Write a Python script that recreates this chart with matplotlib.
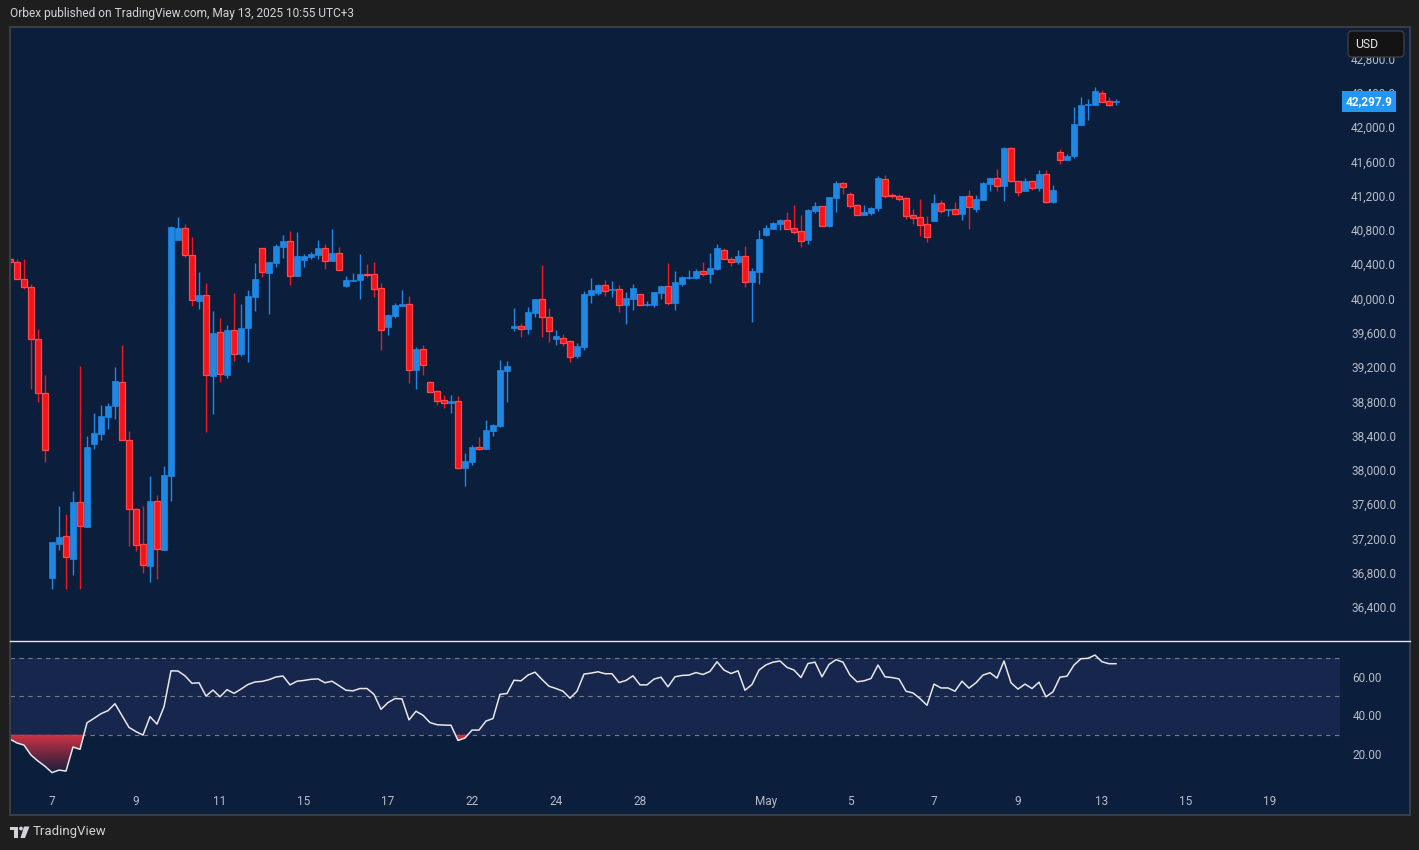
import numpy as np
import matplotlib.pyplot as plt
from matplotlib.patches import Rectangle, FancyBboxPatch, Circle, Polygon
from matplotlib.path import Path

plt.rcParams['font.family'] = ['Roboto', 'DejaVu Sans']

# 4h candles, Apr 4 -> May 13 2025 (index = candle number)
opens = [40456, 40421, 40223, 40130, 39523, 38893, 36742, 37139, 37224, 36964,
         37621, 37337, 38306, 38422, 38620, 38749, 39021, 38344, 37539, 37131,
         36882, 37633, 37069, 37932, 40686, 40818, 40503, 39974, 40036, 39099,
         39604, 39110, 39632, 39356, 39651, 40021, 40584, 40300, 40417, 40604,
         40670, 40266, 40452, 40483, 40507, 40588, 40441, 40530, 40145, 40207,
         40215, 40285, 40285, 40122, 39671, 39799, 39916, 39935, 39169, 39410,
         39025, 38920, 38815, 38784, 38803, 38025, 38095, 38267, 38247, 38457,
         38515, 39157, 39659, 39678, 39647, 39834, 39993, 39783, 39527, 39540,
         39500, 39330, 39430, 40040, 40067, 40157, 40102, 40110, 39927, 39997,
         40052, 39923, 39927, 40067, 40145, 39950, 40172, 40242, 40242, 40320,
         40289, 40347, 40565, 40460, 40429, 40495, 40195, 40312, 40744, 40814,
         40872, 40915, 40822, 40787, 40686, 41020, 41078, 40841, 41172, 41347,
         41218, 41090, 40977, 40997, 41055, 41393, 41211, 41195, 41172, 40973,
         40950, 40868, 40907, 41113, 41032, 41043, 40989, 41195, 41047, 41152,
         41339, 41405, 41316, 41755, 41370, 41257, 41370, 41292, 41452, 41129,
         41708, 41619, 41662, 42027, 42261, 42261, 42397, 42303, 42290]
highs = [40487, 40456, 40456, 40168, 39643, 39107, 37158, 37578, 37485, 37753,
         39212, 38395, 38663, 38757, 38780, 39200, 39457, 38453, 37559, 37578,
         37928, 37707, 38045, 40845, 40950, 40868, 40717, 40308, 40180, 39853,
         39772, 39686, 40063, 39935, 40098, 40413, 40584, 40425, 40635, 40740,
         40787, 40775, 40518, 40542, 40682, 40635, 40810, 40600, 40262, 40297,
         40518, 40402, 40425, 40180, 39822, 39947, 40098, 40028, 39433, 39457,
         39037, 38932, 38873, 38873, 38862, 38197, 38290, 38383, 38582, 38535,
         39282, 39270, 39888, 39713, 39900, 39993, 40390, 39888, 39632, 39580,
         39520, 39480, 40087, 40238, 40168, 40215, 40203, 40157, 40075, 40168,
         40052, 39970, 40075, 40145, 40413, 40320, 40262, 40332, 40343, 40425,
         40530, 40635, 40588, 40483, 40565, 40612, 40355, 40798, 40857, 40892,
         40927, 41008, 41090, 40973, 41043, 41125, 41078, 41183, 41370, 41358,
         41242, 41102, 41090, 41067, 41428, 41440, 41234, 41218, 41183, 41043,
         41160, 40962, 41218, 41148, 41043, 41125, 41195, 41265, 41207, 41358,
         41405, 41510, 41767, 41767, 41370, 41405, 41382, 41498, 41498, 41323,
         41743, 41685, 42233, 42350, 42327, 42467, 42432, 42350, 42327]
lows = [40363, 40223, 40106, 38947, 38796, 38096, 36606, 37065, 36614, 36777,
        36606, 37337, 38247, 38348, 38481, 38593, 38344, 37116, 37057, 36793,
        36696, 36731, 37069, 37641, 40686, 40487, 39912, 39881, 38446, 38656,
        39029, 39076, 39274, 39332, 39262, 39857, 40254, 39822, 40371, 40468,
        40157, 40266, 40371, 40464, 40464, 40347, 40441, 40336, 40133, 40207,
        39993, 40254, 40021, 39402, 39573, 39776, 39916, 39017, 38947, 39110,
        38901, 38761, 38726, 38667, 38014, 37815, 38060, 38232, 38247, 38399,
        38504, 38795, 39624, 39554, 39589, 39787, 39554, 39496, 39457, 39440,
        39260, 39300, 39400, 39947, 40044, 40032, 40017, 39846, 39706, 39869,
        39927, 39912, 39904, 39997, 39927, 39869, 40149, 40227, 40231, 40266,
        40184, 40336, 40464, 40382, 40406, 40137, 39729, 40172, 40732, 40814,
        40802, 40814, 40756, 40604, 40639, 41001, 40849, 40833, 41008, 41218,
        41059, 40977, 40977, 40973, 41024, 41176, 41176, 41140, 40931, 40872,
        40732, 40662, 40907, 41000, 40966, 40977, 40919, 40814, 41012, 41152,
        41257, 41257, 41140, 41362, 41199, 41257, 41269, 41257, 41117, 41117,
        41572, 41619, 41642, 42027, 42086, 42261, 42296, 42249, 42257]
closes = [40421, 40223, 40130, 39523, 38893, 38232, 37158, 37217, 36979, 37621,
          37341, 38267, 38430, 38628, 38745, 39037, 38344, 37547, 37127, 36886,
          37637, 37073, 37940, 40829, 40818, 40503, 39978, 40040, 39103, 39597,
          39114, 39632, 39356, 39655, 40028, 40227, 40304, 40425, 40612, 40670,
          40266, 40495, 40495, 40518, 40588, 40441, 40530, 40336, 40215, 40215,
          40285, 40277, 40114, 39636, 39811, 39923, 39935, 39169, 39410, 39227,
          38912, 38807, 38784, 38803, 38025, 38103, 38267, 38247, 38465, 38523,
          39165, 39212, 39678, 39647, 39842, 39993, 39787, 39624, 39562, 39480,
          39320, 39450, 40052, 40098, 40157, 40091, 40110, 39927, 40005, 40122,
          39927, 39935, 40075, 40145, 39950, 40192, 40250, 40250, 40320, 40289,
          40355, 40588, 40464, 40429, 40495, 40195, 40320, 40693, 40818, 40880,
          40915, 40814, 40779, 40674, 41032, 41078, 40849, 41183, 41347, 41304,
          41082, 40977, 41008, 41055, 41405, 41199, 41199, 41164, 40966, 40942,
          40860, 40720, 41113, 41024, 41043, 40989, 41195, 41071, 41160, 41347,
          41405, 41316, 41755, 41374, 41246, 41370, 41292, 41452, 41129, 41265,
          41619, 41662, 42035, 42257, 42268, 42420, 42296, 42261, 42297.9]

# RSI as drawn under the chart
rsi = [27.7, 25.7, 24.6, 19.4, 16.3, 13.6, 10.3, 11.6, 11.1, 23.6,
       22.4, 36.2, 38.5, 40.9, 42.5, 46.1, 39.9, 33.8, 31.6, 29.8,
       39.4, 35.5, 44.5, 63.2, 63.1, 60.6, 56.7, 57.0, 50.1, 53.2,
       49.7, 53.4, 51.5, 53.7, 56.1, 57.4, 57.7, 58.6, 60.0, 60.5,
       55.9, 57.8, 58.2, 58.8, 59.0, 57.0, 57.8, 55.5, 53.1, 52.8,
       54.0, 54.0, 51.0, 43.2, 46.7, 48.8, 48.6, 37.7, 42.2, 40.1,
       36.3, 35.2, 35.0, 34.9, 27.0, 28.3, 32.4, 32.4, 37.1, 38.4,
       51.0, 51.4, 58.3, 58.0, 61.0, 62.5, 58.7, 55.2, 54.0, 52.6,
       49.0, 52.6, 61.5, 62.0, 62.7, 61.7, 61.7, 57.1, 58.2, 60.6,
       55.9, 55.9, 58.9, 59.9, 54.9, 60.1, 60.8, 61.0, 62.3, 61.3,
       62.9, 67.9, 63.6, 61.8, 63.2, 53.1, 56.1, 63.6, 66.3, 67.7,
       68.3, 65.0, 63.6, 59.7, 67.0, 67.7, 60.1, 66.5, 69.0, 67.7,
       61.0, 57.5, 58.0, 59.2, 66.2, 60.1, 59.7, 59.0, 52.6, 51.7,
       48.8, 45.3, 56.3, 54.3, 54.3, 52.6, 57.8, 54.2, 57.0, 61.0,
       62.2, 59.4, 68.3, 57.0, 53.7, 56.3, 54.0, 57.3, 49.7, 52.3,
       59.9, 60.4, 66.2, 69.5, 69.7, 71.4, 67.9, 66.9, 66.9]

# day ticks: candle index where the labelled day starts
date_ticks = [6, 18, 30, 42, 54, 66, 78, 90, 108, 120, 132, 144, 156, 168, 180]
date_labels = ['7', '9', '11', '15', '17', '22', '24', '28', 'May',
               '5', '7', '9', '13', '15', '19']
price_ticks = list(range(36400, 42801, 400))
rsi_ticks = [20, 40, 60]

BG = '#0b1e3c'
BAND = '#17264d'
UP = '#1e88e5'
DOWN = '#f5141c'
DOWN_EDGE = '#ff4a4a'
TXT = '#b8bcc6'

W, H = 1419, 850
fig = plt.figure(figsize=(W / 100, H / 100), dpi=100, facecolor='#1e1e1e')

def frac(x0, y0, x1, y1):
    return [x0 / W, 1 - y1 / H, (x1 - x0) / W, (y1 - y0) / H]

fig.patches.append(Rectangle((10 / W, 1 - 815 / H), 1400 / W, 788 / H,
                             transform=fig.transFigure, fc=BG, ec='none', zorder=-1))

ax = fig.add_axes(frac(10, 27, 1340, 640))
rx = fig.add_axes(frac(10, 641, 1340, 788), sharex=ax)
for a in (ax, rx):
    a.set_facecolor('none')
    for s in a.spines.values():
        s.set_visible(False)

o = np.array(opens, float)
h = np.array(highs, float)
l = np.array(lows, float)
c = np.array(closes, float)
idx = np.arange(len(c))
up = c >= o
cols = np.where(up, UP, DOWN)

ax.vlines(idx, l, h, colors=cols, lw=1.0, zorder=2)
body_lo = np.minimum(o, c)
body_h = np.maximum(np.abs(c - o), 12)
ax.bar(idx[up], body_h[up], bottom=body_lo[up], width=0.72, color=UP,
       edgecolor=UP, lw=0.5, zorder=3)
ax.bar(idx[~up], body_h[~up], bottom=body_lo[~up], width=0.72, color=DOWN,
       edgecolor=DOWN_EDGE, lw=0.9, zorder=3)

ax.set_xlim(0, 190)
ax.set_ylim(36015, 43167)
ax.yaxis.tick_right()
ax.set_yticks(price_ticks)
ax.set_yticklabels([f'{p:,.1f}' for p in price_ticks])
ax.tick_params(axis='y', length=0, pad=8, labelsize=8.5, labelcolor=TXT)
ax.tick_params(axis='x', length=0, labelbottom=False)

# last price marker (sits over the 42,400 label, as in TradingView)
ax.text((1346 - 10) / 1330, c[-1], f'{c[-1]:,.1f}', transform=ax.get_yaxis_transform(),
        ha='left', va='center', color='white', fontsize=8.5, fontweight='bold',
        bbox=dict(boxstyle='square,pad=0.3', fc='#2196f3', ec='none'),
        clip_on=False, zorder=10)

# RSI pane
r = np.array(rsi)
rx.axhspan(30, 70, color=BAND, lw=0, zorder=0)
for lvl in (70, 50, 30):
    rx.axhline(lvl, color='#787b86', lw=0.8, ls=(0, (4, 4)), zorder=1)
poly = rx.fill_between(idx, r, 30, where=r < 30, interpolate=True,
                       color='none', lw=0)
grad = np.zeros((256, 1, 4))
grad[:, 0, :3] = (0.86, 0.2, 0.27)
grad[:, 0, 3] = np.linspace(0.95, 0.0, 256)
img = rx.imshow(grad, extent=[0, 190, 9, 30], aspect='auto', origin='upper',
                zorder=1.5, interpolation='bilinear')
img.set_clip_path(Path.make_compound_path(*poly.get_paths()), transform=rx.transData)
rx.plot(idx, r, color='#e8e8e8', lw=1.1, zorder=3)

rx.set_xlim(0, 190)
rx.set_ylim(2.3, 78.7)
rx.yaxis.tick_right()
rx.set_yticks(rsi_ticks)
rx.set_yticklabels([f'{v:.2f}' for v in rsi_ticks])
rx.tick_params(axis='y', length=0, pad=9, labelsize=8.5, labelcolor=TXT)
rx.set_xticks(date_ticks)
rx.set_xticklabels(date_labels)
rx.tick_params(axis='x', length=0, pad=5, labelsize=8.5, labelcolor=TXT)

# overlay in pixel coordinates
ov = fig.add_axes([0, 0, 1, 1], zorder=20)
ov.set_xlim(0, W)
ov.set_ylim(H, 0)
ov.axis('off')
ov.patch.set_alpha(0)

ov.plot([10, 1410], [640.5, 640.5], color='#e6e6e6', lw=1.0)
ov.add_patch(Rectangle((9.5, 27), 1400.5, 788, fill=False, ec='#3a3d44', lw=1.5))
ov.add_patch(FancyBboxPatch((1348, 31), 56, 26, boxstyle='round,pad=0,rounding_size=4',
                            fc='#131313', ec='#3e3e3e', lw=1.0))
ov.text(1355, 44, 'USD', color='#e6e6e6', fontsize=8.8, va='center', ha='left')

ov.text(10, 13, 'Orbex published on TradingView.com, May 13, 2025 10:55 UTC+3',
        color='#d1d4dc', fontsize=8.6, va='center', ha='left')

# TradingView logo + name
logo = '#d1d4dc'
ov.add_patch(Rectangle((10, 826.5), 8, 3.5, fc=logo, ec='none'))
ov.add_patch(Rectangle((14, 826.5), 4, 11.5, fc=logo, ec='none'))
ov.add_patch(Circle((21, 828.5), 1.9, fc=logo, ec='none'))
ov.add_patch(Polygon([(24, 826.5), (29.5, 826.5), (25, 838), (20.5, 838)],
                     closed=True, fc=logo, ec='none'))
ov.text(33, 832, 'TradingView', color='#d1d4dc', fontsize=9.5, va='center', ha='left')

fig.savefig('out.png', dpi=100, facecolor=fig.get_facecolor())
